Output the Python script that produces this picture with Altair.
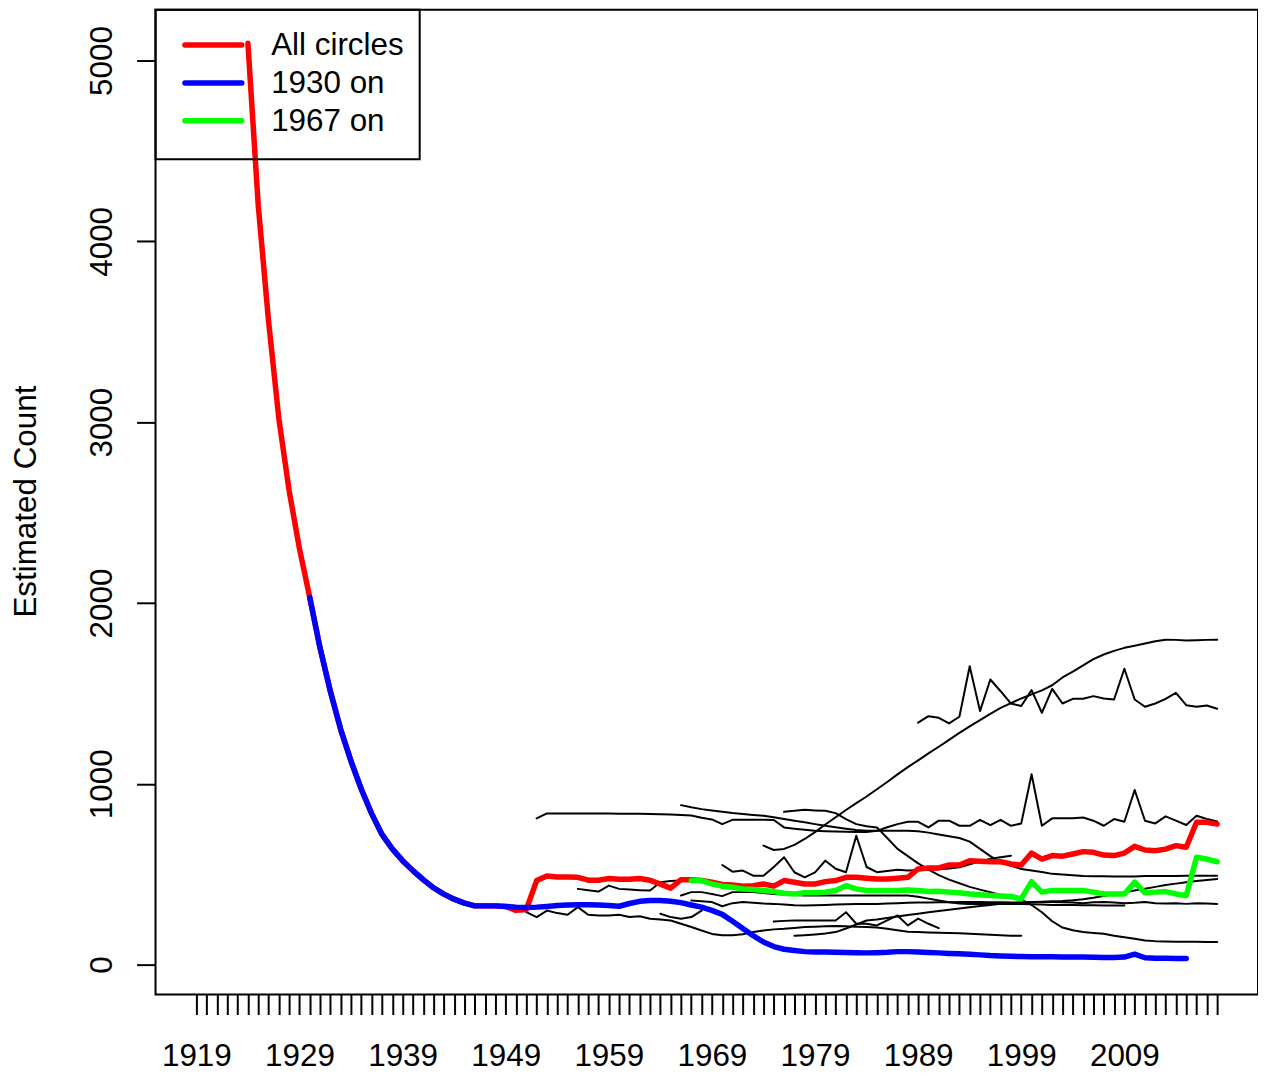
import altair as alt
import pandas as pd

FONT = "Liberation Sans"

# ---------------- axis ticks / legend ----------------
x_tick_years = list(range(1919, 2019))
y_ticks = [0, 1000, 2000, 3000, 4000, 5000]
legend_labels = ["All circles", "1930 on", "1967 on"]
legend_colors = ["#ff0000", "#0000ff", "#00ff00"]

# ---------------- coloured series ----------------
red_start = 1924
red_values = [5095, 4200, 3560, 3020, 2620, 2300, 2030, 1750, 1510, 1300,
              1125, 970, 835, 720, 640, 575, 520, 470, 425, 390,
              362, 340, 325, 325, 325, 322, 300, 305, 465, 490,
              485, 485, 483, 467, 467, 476, 472, 472, 476, 467,
              445, 423, 470, 470, 465, 456, 443, 441, 434, 437,
              446, 434, 465, 456, 446, 446, 459, 465, 483, 483,
              478, 474, 474, 478, 483, 529, 535, 535, 551, 551,
              575, 572, 569, 569, 557, 551, 617, 584, 603, 600,
              612, 625, 621, 606, 603, 617, 654, 634, 630, 639,
              658, 649, 787, 787, 777]

blue_start = 1930
blue_values = [2030, 1750, 1510, 1300, 1125, 970, 835, 720, 640, 575,
               520, 470, 425, 390, 362, 340, 325, 325, 325, 322,
               318, 316, 318, 322, 327, 330, 331, 331, 330, 327,
               323, 338, 350, 355, 355, 351, 343, 330, 318, 300,
               278, 240, 200, 160, 125, 100, 85, 78, 72, 70,
               70, 68, 67, 66, 65, 66, 68, 72, 72, 70,
               67, 65, 62, 60, 57, 54, 50, 48, 46, 45,
               44, 44, 43, 42, 42, 42, 41, 40, 40, 42,
               58, 38, 35, 35, 34, 34]

green_start = 1967
green_values = [465, 465, 446, 434, 428, 419, 415, 410, 404, 395,
                391, 397, 397, 401, 410, 437, 419, 410, 410, 410,
                410, 413, 410, 404, 406, 401, 397, 391, 386, 382,
                379, 377, 364, 459, 401, 410, 410, 410, 410, 401,
                391, 391, 391, 456, 397, 401, 404, 391, 382, 594,
                584, 569]

# ---------------- individual circles (black) ----------------
circle_a_start = 1974
circle_a = [658, 634, 640, 662, 695, 733, 775, 815, 855, 893,
            930, 970, 1010, 1052, 1092, 1130, 1168, 1205, 1243, 1282,
            1318, 1352, 1387, 1420, 1446, 1472, 1495, 1517, 1545, 1588,
            1620, 1655, 1690, 1715, 1735, 1752, 1764, 1776, 1788, 1797,
            1796, 1792, 1794, 1796, 1797]

circle_b_start = 1989
circle_b = [1338, 1374, 1365, 1334, 1371, 1650, 1402, 1577, 1512, 1444,
            1430, 1518, 1393, 1525, 1444, 1470, 1470, 1485, 1472, 1466,
            1636, 1466, 1426, 1444, 1470, 1503, 1435, 1426, 1433, 1415]

circle_c_start = 1952
circle_c = [809, 836, 836, 836, 836, 836, 836, 836, 835, 835,
            834, 833, 832, 830, 828, 825, 812, 803, 777, 801,
            801, 801, 801, 800, 759, 752, 746, 740, 738, 736,
            735, 734, 733, 740, 760, 777, 790, 790, 759, 796,
            796, 768, 768, 801, 772, 801, 768, 781, 1053, 768,
            809, 809, 810, 814, 796, 768, 805, 790, 966, 796,
            781, 820, 796, 772, 823, 805, 792]

circle_d_start = 1966
circle_d = [882, 870, 860, 852, 845, 838, 833, 828, 823, 815,
            806, 796, 787, 777, 768, 760, 752, 745, 740, 740,
            740, 740, 740, 738, 730, 720, 710, 700, 680, 640,
            600, 565, 547, 529, 520, 512, 502, 498, 494, 490,
            489, 489, 488, 487, 488, 490, 490, 490, 490, 491,
            492, 492, 492]

circle_e_start = 1976
circle_e = [845, 851, 856, 853, 851, 838, 805, 777, 765, 759,
            700, 640, 600, 560, 525, 495, 470, 450, 430, 415,
            400, 385, 372, 360, 330, 290, 240, 205, 190, 180,
            175, 171, 160, 152, 143, 134, 130, 128, 127, 127,
            126, 125, 125]

circle_f_start = 1956
circle_f = [419, 412, 404, 437, 419, 415, 412, 410, 456, 462,
            465, 465, 465, 460, 450, 440, 430, 420, 410]

circle_g_start = 1951
circle_g = [290, 263, 299, 285, 276, 318, 276, 272, 272, 276,
            263, 268, 254, 250, 244, 226, 208, 189, 170, 162,
            162, 168, 180, 189, 195, 198, 203, 208, 210, 212,
            213, 212, 210, 208, 205, 198, 190, 182, 180, 178,
            176, 175, 173, 171, 168, 165, 162, 160, 160]

circle_i_start = 1975
circle_i = [239, 242, 244, 244, 244, 244, 244, 290, 226, 226,
            217, 245, 272, 217, 254, 226, 202]

circle_j_start = 1977
circle_j = [160, 163, 167, 172, 180, 200, 222, 244, 250, 258,
            266, 274, 282, 290, 297, 303, 310, 317, 324, 330,
            336, 340, 343, 346, 348, 350, 352, 356, 362, 370,
            380, 390, 400, 410, 420, 430, 440, 448, 455, 462,
            468, 474]

circle_p_start = 1970
circle_p = [551, 514, 520, 492, 492, 540, 594, 511, 483, 510,
            575, 530, 511, 713, 540, 511, 518, 525, 520, 522,
            525, 528, 532, 539, 555, 572, 585, 594, 602]

circle_n_start = 1966
circle_n = [382, 401, 401, 391, 379, 401, 401, 401, 396, 391,
            388, 385, 382, 382, 382, 382, 382, 382, 382, 382,
            382, 382, 382, 375, 365, 355, 345, 338, 336, 336,
            336, 336, 336, 336, 334, 332, 330, 330, 330, 328,
            328, 327, 327, 327]

circle_q_start = 1967
circle_q = [355, 350, 346, 323, 340, 346, 342, 338, 336, 332,
            328, 327, 328, 330, 332, 334, 335, 336, 336, 338,
            340, 342, 343, 344, 345, 345, 346, 346, 346, 345,
            345, 344, 344, 345, 346, 346, 345, 343, 340, 345,
            346, 344, 340, 342, 346, 340, 338, 340, 336, 340,
            338, 336]

circle_m_start = 1964
circle_m = [281, 263, 254, 263, 299]


def frame(name, start, values):
    return pd.DataFrame({"series": name,
                         "year": list(range(start, start + len(values))),
                         "value": values})


black = pd.concat([
    frame("a", circle_a_start, circle_a),
    frame("b", circle_b_start, circle_b),
    frame("c", circle_c_start, circle_c),
    frame("d", circle_d_start, circle_d),
    frame("e", circle_e_start, circle_e),
    frame("f", circle_f_start, circle_f),
    frame("g", circle_g_start, circle_g),
    frame("i", circle_i_start, circle_i),
    frame("j", circle_j_start, circle_j),
    frame("p", circle_p_start, circle_p),
    frame("n", circle_n_start, circle_n),
    frame("q", circle_q_start, circle_q),
    frame("m", circle_m_start, circle_m),
], ignore_index=True)

red = frame(legend_labels[0], red_start, red_values)
blue = frame(legend_labels[1], blue_start, blue_values)
green = frame(legend_labels[2], green_start, green_values)

FS = 31.5

x_enc = alt.X(
    "year:Q",
    scale=alt.Scale(domain=[1915.04, 2021.96], nice=False, zero=False),
    axis=alt.Axis(
        values=x_tick_years, tickCount=500, format="d",
        labelExpr="(datum.value - 1919) % 10 == 0 ? datum.label : ''",
        labelOverlap=False, labelFlush=False, grid=False, domain=False,
        tickSize=20, tickWidth=2, tickColor="black",
        labelFontSize=FS, labelFont=FONT, labelColor="black",
        labelPadding=26, title=None,
    ),
)
y_enc = alt.Y(
    "value:Q",
    scale=alt.Scale(domain=[-165.4, 5281], nice=False, zero=False),
    axis=alt.Axis(
        values=y_ticks, format="d", grid=False, domain=False,
        tickSize=19, tickWidth=2, tickColor="black",
        labelAngle=270, labelAlign="center", labelBaseline="bottom",
        labelFontSize=FS, labelFont=FONT, labelColor="black", labelPadding=18,
        title="Estimated Count", titleFontSize=FS, titleFont=FONT,
        titleFontWeight="normal", titleColor="black", titleAngle=270,
        titleAlign="center", titleBaseline="middle", titleX=-129, titleY=493,
    ),
)

black_layer = alt.Chart(black).mark_line(
    color="black", strokeWidth=2, strokeJoin="round", strokeCap="round"
).encode(x=x_enc, y=y_enc, detail="series:N")


def colored(df, col):
    return alt.Chart(df).mark_line(
        color=col, strokeWidth=5.5, strokeJoin="round", strokeCap="round",
        interpolate="linear"
    ).encode(x="year:Q", y="value:Q")


layers = [black_layer,
          colored(red, legend_colors[0]),
          colored(blue, legend_colors[1]),
          colored(green, legend_colors[2])]

# legend box (R style, transparent background)
one = pd.DataFrame({"k": [0]})
layers.append(alt.Chart(one).mark_rect(fillOpacity=0, stroke="black", strokeWidth=2).encode(
    x=alt.value(0), x2=alt.value(265), y=alt.value(0), y2=alt.value(150)))
for i, (lab, col) in enumerate(zip(legend_labels, legend_colors)):
    yy = 35.5 + 38 * i
    layers.append(alt.Chart(one).mark_rule(color=col, strokeWidth=5.5, strokeCap="round").encode(
        x=alt.value(29.5), x2=alt.value(86.5), y=alt.value(yy)))
    layers.append(alt.Chart(one).mark_text(
        align="left", baseline="middle", fontSize=FS, font=FONT, color="black").encode(
        x=alt.value(116), y=alt.value(yy + 1), text=alt.value(lab)))

chart = alt.layer(*layers).properties(
    width=1106, height=988,
    autosize=alt.AutoSizeParams(type="none"),
    padding={"left": 148, "top": 0, "right": 0, "bottom": 76},
).configure_view(stroke="black", strokeWidth=2)

chart.save("out.html", embed_options={"renderer": "svg", "actions": False})
